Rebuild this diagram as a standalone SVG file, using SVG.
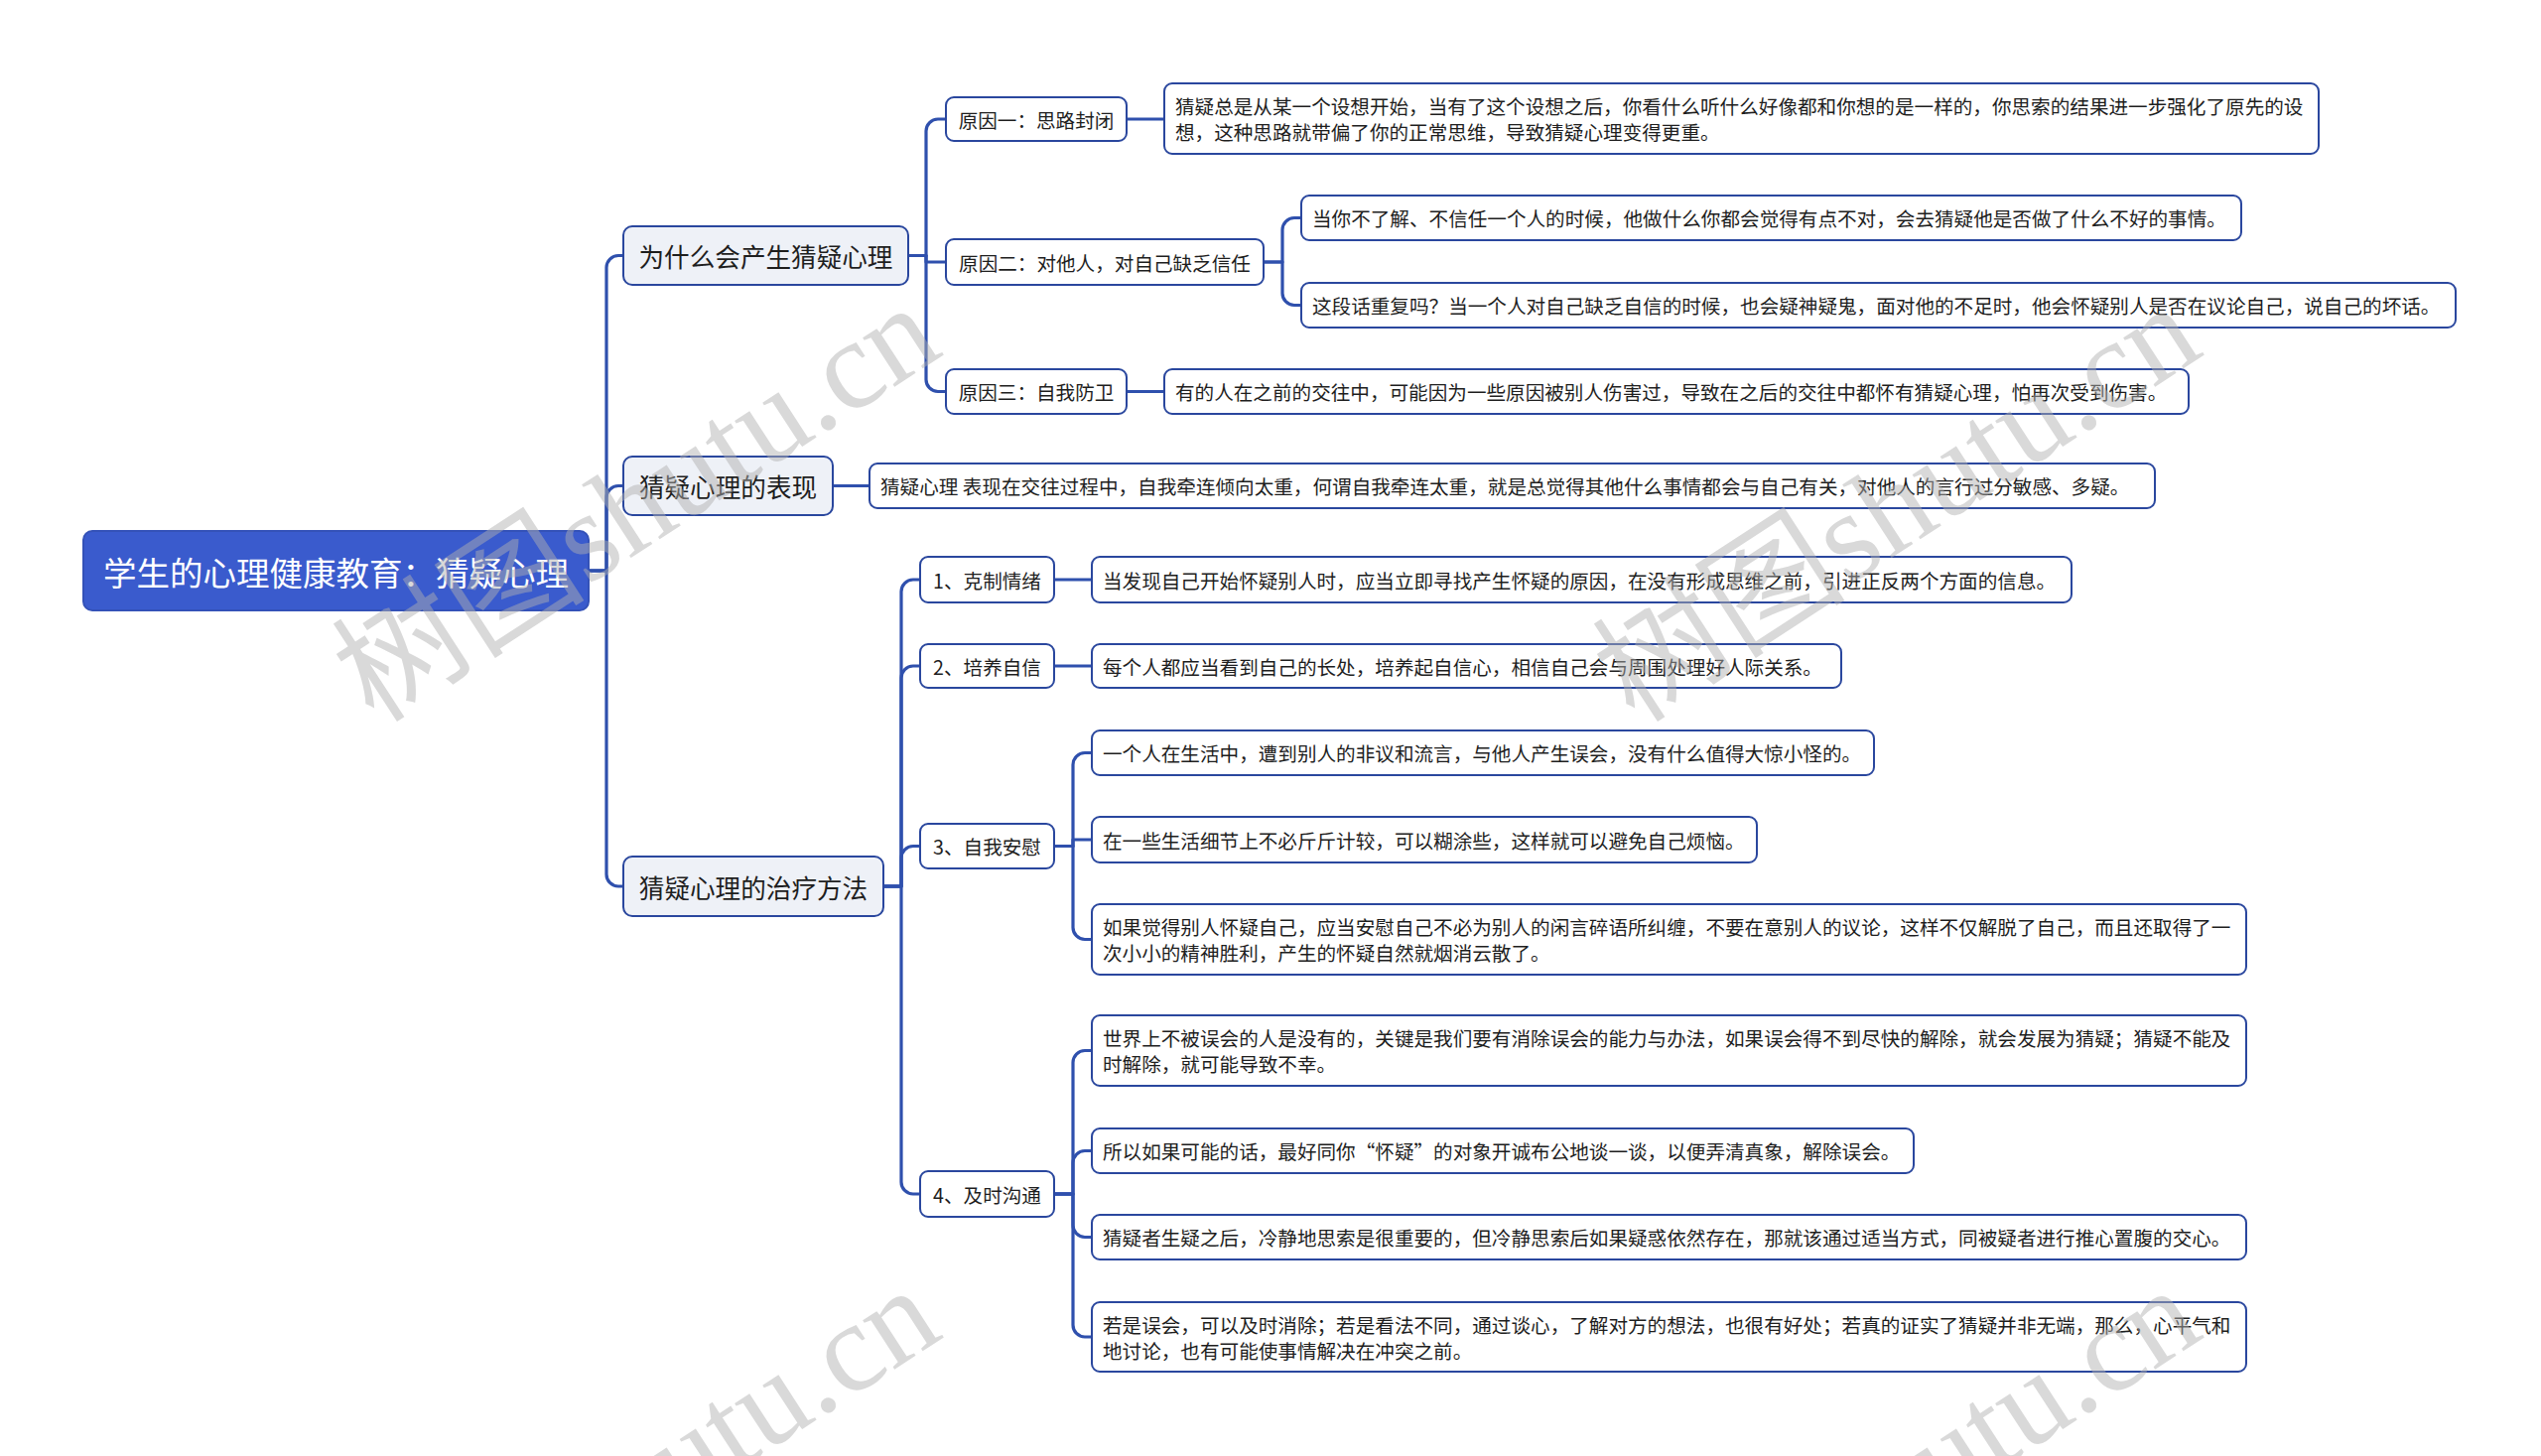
<svg xmlns="http://www.w3.org/2000/svg" width="2560" height="1467" viewBox="0 0 2560 1467">
<style>
text{font-family:"Noto Sans CJK SC","Noto Sans",sans-serif;fill:#1e1e1e;dominant-baseline:central}
.root rect{fill:#3a5bcd;stroke:#3452b8;stroke-width:2}
.root text{fill:#fff;font-size:33.5px;text-anchor:middle}
.l1 rect{fill:#eef1f7;stroke:#2a479e;stroke-width:2}
.l1 text{font-size:25.6px;text-anchor:middle}
.l2 rect{fill:#fff;stroke:#2a479e;stroke-width:2}
.l2 text{font-size:19.6px;text-anchor:middle}
.leaf rect{fill:#fff;stroke:#2a479e;stroke-width:2}
.leaf text{font-size:19.6px}
.conn path{fill:none;stroke:#2f50ad;stroke-width:3.2;stroke-linejoin:round}
.wm{font-family:"Liberation Serif","Noto Sans CJK SC",serif;font-size:128px;fill:#b0b0b0;opacity:0.48;dominant-baseline:auto}
</style>

<g id="connectors" class="conn">
<path d="M593 575 H611 V269.5 A12 12 0 0 1 623 257.5 H628"/>
<path d="M593 575 H611 V501.5 A12 12 0 0 1 623 489.5 H628"/>
<path d="M593 575 H611 V881 A12 12 0 0 0 623 893 H628"/>
<path d="M915 257.5 H933 V132 A12 12 0 0 1 945 120 H953"/>
<path d="M915 257.5 H933 V264 H953"/>
<path d="M915 257.5 H933 V382.5 A12 12 0 0 0 945 394.5 H953"/>
<path d="M1135 120 H1173"/>
<path d="M1273 264 H1292 V231.5 A12 12 0 0 1 1304 219.5 H1311"/>
<path d="M1273 264 H1292 V295.5 A12 12 0 0 0 1304 307.5 H1311"/>
<path d="M1135 394.5 H1173"/>
<path d="M839 489.5 H876"/>
<path d="M890 893 H908 V596 A12 12 0 0 1 920 584 H927"/>
<path d="M890 893 H908 V683 A12 12 0 0 1 920 671 H927"/>
<path d="M890 893 H908 V864.5 A12 12 0 0 1 920 852.5 H927"/>
<path d="M890 893 H908 V1191 A12 12 0 0 0 920 1203 H927"/>
<path d="M1062 584 H1100"/>
<path d="M1062 671 H1100"/>
<path d="M1062 852.5 H1081 V770.5 A12 12 0 0 1 1093 758.5 H1100"/>
<path d="M1062 852.5 H1081 V846 H1100"/>
<path d="M1062 852.5 H1081 V934.5 A12 12 0 0 0 1093 946.5 H1100"/>
<path d="M1062 1203 H1081 V1070.5 A12 12 0 0 1 1093 1058.5 H1100"/>
<path d="M1062 1203 H1081 V1171.5 A12 12 0 0 1 1093 1159.5 H1100"/>
<path d="M1062 1203 H1081 V1234.5 A12 12 0 0 0 1093 1246.5 H1100"/>
<path d="M1062 1203 H1081 V1335 A12 12 0 0 0 1093 1347 H1100"/>
</g>

<g id="root" class="root"><rect x="84" y="535" width="509" height="80" rx="9"/><text x="338.5" y="575">学生的心理健康教育：猜疑心理</text></g>

<g id="n-why" class="l1"><rect x="628" y="228" width="287" height="59" rx="9"/><text x="771.5" y="257.5">为什么会产生猜疑心理</text></g>
<g id="n-show" class="l1"><rect x="628" y="460" width="211" height="59" rx="9"/><text x="733.5" y="489.5">猜疑心理的表现</text></g>
<g id="n-cure" class="l1"><rect x="628" y="863" width="262" height="60" rx="9"/><text x="759" y="893">猜疑心理的治疗方法</text></g>

<g id="n-r1" class="l2"><rect x="953" y="98" width="182" height="44" rx="8"/><text x="1044" y="120">原因一：思路封闭</text></g>
<g id="n-r2" class="l2"><rect x="953" y="241" width="320" height="46" rx="8"/><text x="1113" y="264">原因二：对他人，对自己缺乏信任</text></g>
<g id="n-r3" class="l2"><rect x="953" y="372" width="182" height="45" rx="8"/><text x="1044" y="394.5">原因三：自我防卫</text></g>

<g id="leaf-r1" class="leaf"><rect x="1173" y="84" width="1163" height="71" rx="8"/>
<text x="1184" y="106.5">猜疑总是从某一个设想开始，当有了这个设想之后，你看什么听什么好像都和你想的是一样的，你思索的结果进一步强化了原先的设</text>
<text x="1184" y="132.5">想，这种思路就带偏了你的正常思维，导致猜疑心理变得更重。</text></g>
<g id="leaf-r2a" class="leaf"><rect x="1311" y="197" width="947" height="45" rx="8"/><text x="1322" y="219.5">当你不了解、不信任一个人的时候，他做什么你都会觉得有点不对，会去猜疑他是否做了什么不好的事情。</text></g>
<g id="leaf-r2b" class="leaf"><rect x="1311" y="285" width="1163" height="45" rx="8"/><text x="1322" y="307.5">这段话重复吗？当一个人对自己缺乏自信的时候，也会疑神疑鬼，面对他的不足时，他会怀疑别人是否在议论自己，说自己的坏话。</text></g>
<g id="leaf-r3" class="leaf"><rect x="1173" y="372" width="1032" height="45" rx="8"/><text x="1184" y="394.5">有的人在之前的交往中，可能因为一些原因被别人伤害过，导致在之后的交往中都怀有猜疑心理，怕再次受到伤害。</text></g>
<g id="leaf-show" class="leaf"><rect x="876" y="467" width="1295" height="45" rx="8"/><text x="887" y="489.5">猜疑心理 表现在交往过程中，自我牵连倾向太重，何谓自我牵连太重，就是总觉得其他什么事情都会与自己有关，对他人的言行过分敏感、多疑。</text></g>

<g id="n-c1" class="l2"><rect x="927" y="561" width="135" height="46" rx="8"/><text x="994.5" y="584">1、克制情绪</text></g>
<g id="n-c2" class="l2"><rect x="927" y="649" width="135" height="44" rx="8"/><text x="994.5" y="671">2、培养自信</text></g>
<g id="n-c3" class="l2"><rect x="927" y="830" width="135" height="45" rx="8"/><text x="994.5" y="852.5">3、自我安慰</text></g>
<g id="n-c4" class="l2"><rect x="927" y="1180" width="135" height="46" rx="8"/><text x="994.5" y="1203">4、及时沟通</text></g>

<g id="leaf-c1" class="leaf"><rect x="1100" y="561" width="987" height="46" rx="8"/><text x="1111" y="584">当发现自己开始怀疑别人时，应当立即寻找产生怀疑的原因，在没有形成思维之前，引进正反两个方面的信息。</text></g>
<g id="leaf-c2" class="leaf"><rect x="1100" y="649" width="755" height="44" rx="8"/><text x="1111" y="671">每个人都应当看到自己的长处，培养起自信心，相信自己会与周围处理好人际关系。</text></g>
<g id="leaf-c3a" class="leaf"><rect x="1100" y="736" width="788" height="45" rx="8"/><text x="1111" y="758.5">一个人在生活中，遭到别人的非议和流言，与他人产生误会，没有什么值得大惊小怪的。</text></g>
<g id="leaf-c3b" class="leaf"><rect x="1100" y="823" width="670" height="46" rx="8"/><text x="1111" y="846">在一些生活细节上不必斤斤计较，可以糊涂些，这样就可以避免自己烦恼。</text></g>
<g id="leaf-c3c" class="leaf"><rect x="1100" y="911" width="1163" height="71" rx="8"/>
<text x="1111" y="933.5">如果觉得别人怀疑自己，应当安慰自己不必为别人的闲言碎语所纠缠，不要在意别人的议论，这样不仅解脱了自己，而且还取得了一</text>
<text x="1111" y="959.5">次小小的精神胜利，产生的怀疑自然就烟消云散了。</text></g>
<g id="leaf-c4a" class="leaf"><rect x="1100" y="1023" width="1163" height="71" rx="8"/>
<text x="1111" y="1045.5">世界上不被误会的人是没有的，关键是我们要有消除误会的能力与办法，如果误会得不到尽快的解除，就会发展为猜疑；猜疑不能及</text>
<text x="1111" y="1071.5">时解除，就可能导致不幸。</text></g>
<g id="leaf-c4b" class="leaf"><rect x="1100" y="1137" width="828" height="45" rx="8"/><text x="1111" y="1159.5">所以如果可能的话，最好同你“怀疑”的对象开诚布公地谈一谈，以便弄清真象，解除误会。</text></g>
<g id="leaf-c4c" class="leaf"><rect x="1100" y="1224" width="1163" height="45" rx="8"/><text x="1111" y="1246.5">猜疑者生疑之后，冷静地思索是很重要的，但冷静思索后如果疑惑依然存在，那就该通过适当方式，同被疑者进行推心置腹的交心。</text></g>
<g id="leaf-c4d" class="leaf"><rect x="1100" y="1312" width="1163" height="70" rx="8"/>
<text x="1111" y="1334">若是误会，可以及时消除；若是看法不同，通过谈心，了解对方的想法，也很有好处；若真的证实了猜疑并非无端，那么，心平气和</text>
<text x="1111" y="1360">地讨论，也有可能使事情解决在冲突之前。</text></g>

<g id="watermarks">
<text class="wm" transform="translate(377,730) rotate(-33)">树图shutu.cn</text>
<text class="wm" transform="translate(1647,730) rotate(-33)">树图shutu.cn</text>
<text class="wm" transform="translate(377,1720) rotate(-33)">树图shutu.cn</text>
<text class="wm" transform="translate(1647,1720) rotate(-33)">树图shutu.cn</text>
</g>
</svg>
